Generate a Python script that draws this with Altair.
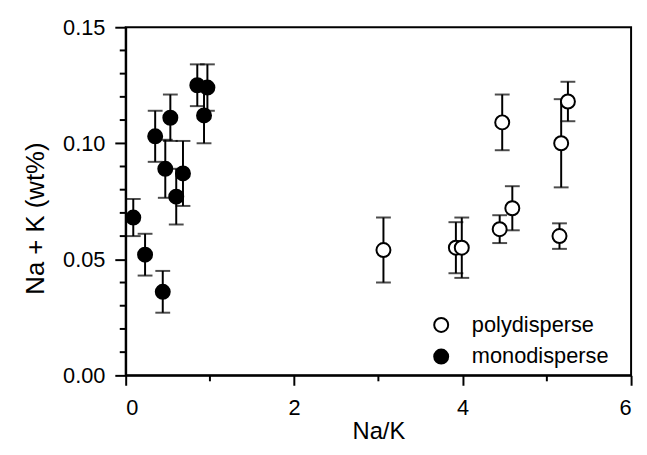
import altair as alt
import pandas as pd

# polydisperse (open circles)
poly_x = [3.06, 3.92, 3.99, 4.44, 4.47, 4.59, 5.15, 5.17, 5.25]
poly_y = [0.054, 0.055, 0.055, 0.063, 0.109, 0.072, 0.060, 0.100, 0.118]
poly_err = [0.014, 0.011, 0.013, 0.006, 0.012, 0.0095, 0.0055, 0.019, 0.0085]

# monodisperse (filled circles)
mono_x = [0.09, 0.23, 0.44, 0.35, 0.47, 0.53, 0.60, 0.68, 0.85, 0.93, 0.97]
mono_y = [0.068, 0.052, 0.036, 0.103, 0.089, 0.111, 0.077, 0.087, 0.125, 0.112, 0.124]
mono_err = [0.008, 0.009, 0.009, 0.011, 0.0125, 0.010, 0.012, 0.014, 0.009, 0.012, 0.010]

series_names = ["polydisperse", "monodisperse"]
x_major = [0, 2, 4, 6]
x_minor = [1, 3, 5]
y_major = [0.00, 0.05, 0.10, 0.15]
y_minor = [0.01, 0.02, 0.03, 0.04, 0.06, 0.07, 0.08, 0.09,
           0.11, 0.12, 0.13, 0.14]

rows = []
for xs, ys, es, name in [(poly_x, poly_y, poly_err, series_names[0]),
                         (mono_x, mono_y, mono_err, series_names[1])]:
    for xv, yv, ev in zip(xs, ys, es):
        rows.append({"x": xv, "y": yv, "lo": yv - ev, "hi": yv + ev, "series": name})
df = pd.DataFrame(rows)
df_xminor = pd.DataFrame({"x": x_minor})
df_yminor = pd.DataFrame({"y": y_minor})

FONT = "Liberation Sans"
W, H = 511, 352

x_scale = alt.Scale(domain=[0, 6], nice=False, zero=False)
y_scale = alt.Scale(domain=[0, 0.15], nice=False, zero=False)

x_axis = alt.Axis(values=x_major, title="Na/K", format="d",
                  tickSize=10, grid=False,
                  domainColor="black", domainWidth=2,
                  tickColor="black", tickWidth=2,
                  labelFont=FONT, labelFontSize=22, labelColor="black",
                  labelPadding=13,
                  titleFont=FONT, titleFontSize=24, titleFontWeight="normal",
                  titleColor="black", titlePadding=1)
y_axis = alt.Axis(values=y_major, title="Na + K (wt%)", format=".2f",
                  tickSize=11, grid=False,
                  domainColor="black", domainWidth=2,
                  tickColor="black", tickWidth=2,
                  labelFont=FONT, labelFontSize=22, labelColor="black",
                  labelPadding=10,
                  titleFont=FONT, titleFontSize=26, titleFontWeight="normal",
                  titleColor="black", titlePadding=14, titleY=193)

X = lambda f: alt.X(f, scale=x_scale, axis=x_axis, title="Na/K")
Y = lambda f: alt.Y(f, scale=y_scale, axis=y_axis, title="Na + K (wt%)")

base = alt.Chart(df)

bars = base.mark_rule(color="black", strokeWidth=2).encode(
    x=X("x:Q"), y=Y("lo:Q"), y2="hi:Q")
caps_lo = base.mark_tick(color="black", orient="horizontal", size=15, thickness=2).encode(
    x=X("x:Q"), y=Y("lo:Q"))
caps_hi = base.mark_tick(color="black", orient="horizontal", size=15, thickness=2).encode(
    x=X("x:Q"), y=Y("hi:Q"))

minor_x = alt.Chart(df_xminor).mark_rule(color="black", strokeWidth=2).encode(
    x=X("x:Q"), y=alt.value(H), y2=alt.value(H + 6))
minor_y = alt.Chart(df_yminor).mark_rule(color="black", strokeWidth=2).encode(
    y=Y("y:Q"), x=alt.value(0), x2=alt.value(-6))

points = base.mark_point(shape="circle", filled=True, size=200, stroke="black",
                         strokeWidth=2, opacity=1).encode(
    x=X("x:Q"), y=Y("y:Q"),
    fill=alt.Fill("series:N",
                  scale=alt.Scale(domain=series_names, range=["white", "black"]),
                  legend=alt.Legend(title=None, orient="none", legendX=308, legendY=290,
                                    labelFont=FONT, labelFontSize=22, labelColor="black",
                                    symbolType="circle", symbolSize=200,
                                    symbolStrokeColor="black", symbolStrokeWidth=2,
                                    rowPadding=8, labelOffset=20)))

chart = alt.layer(bars, caps_lo, caps_hi, points, minor_x, minor_y).properties(
    width=W, height=H,
    autosize=alt.AutoSizeParams(type="none"),
    padding={"left": 119, "top": 17, "right": 8, "bottom": 70},
).configure(background="white").configure_view(stroke="black", strokeWidth=2)

chart.save("out.html", embed_options={"renderer": "svg", "actions": False})
